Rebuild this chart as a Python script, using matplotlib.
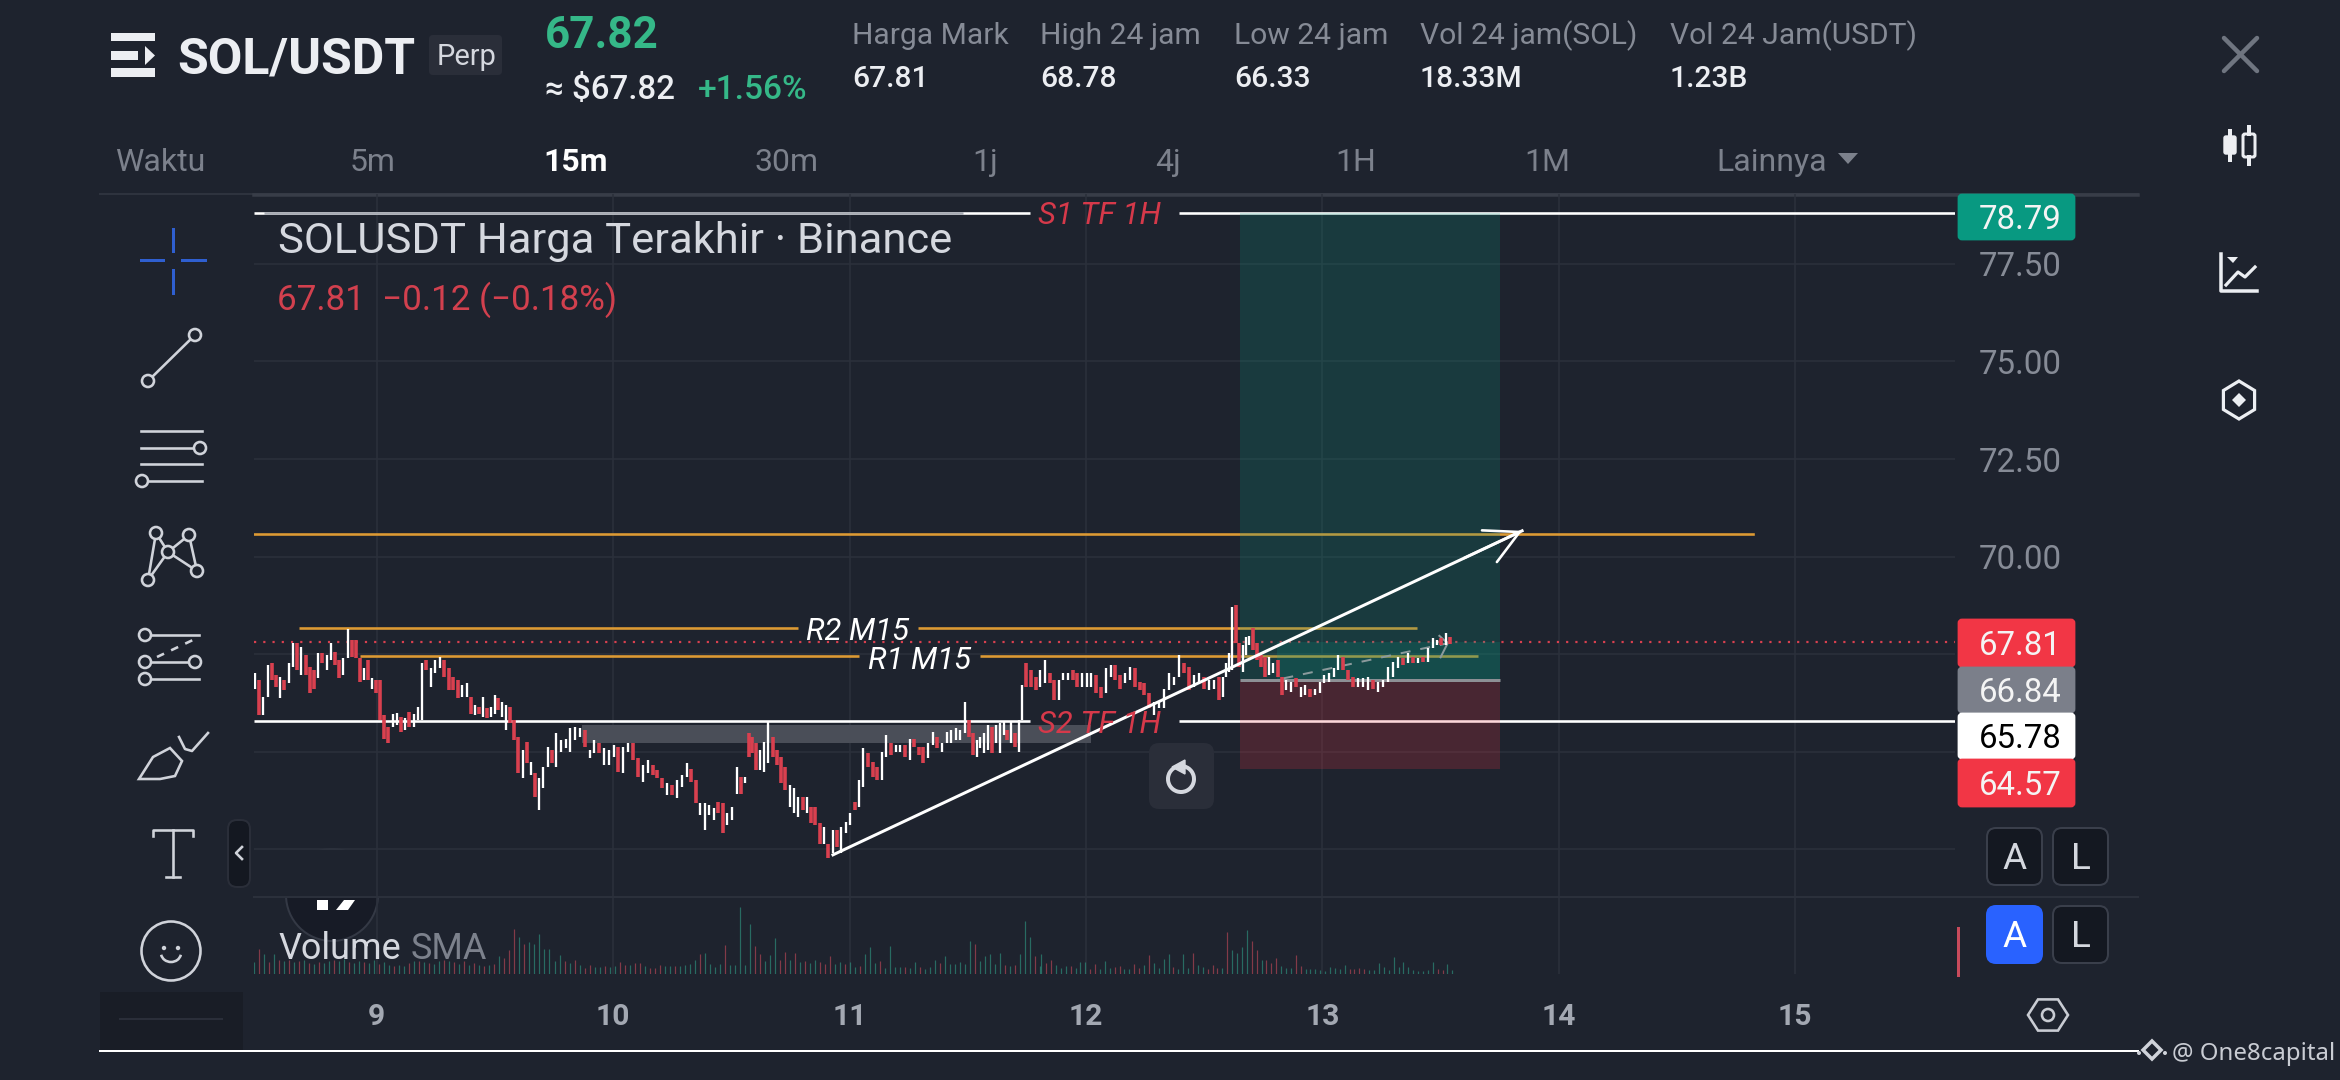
import numpy as np
import matplotlib
matplotlib.use("Agg")
import matplotlib.pyplot as plt
from matplotlib.patches import Rectangle, FancyBboxPatch, Circle, Polygon, Ellipse, Arc

plt.rcParams['font.family'] = ['Roboto', 'DejaVu Sans']

# ---------- price bars (high, low, rising) ----------
highs_a = [67.01,66.84,66.41,67.22,67.27,66.97,66.92,66.84,67.27,67.78,67.78,67.69,67.48,67.18,67.09,67.52,67.52,67.48,67.78,67.56,67.35,67.39,68.14,67.86,67.86,67.39,67.14,67.35,66.88,66.84,66.84,65.94,65.64,65.98,66.00,65.90,65.86,66.03,65.98,66.15,67.27,67.35,67.14,67.35,67.42,67.35,67.14,66.92,66.84,66.71,66.75,66.41,66.20,66.15,66.41,66.11,66.15,66.45,66.37,66.28,66.20,66.15,65.81,65.39,65.04,65.26,64.75,64.45,64.32,64.62,65.13,65.04,65.47,65.30,65.34,65.60,65.64,65.60,65.56,65.04,65.30,65.22,65.09,65.04,65.17,65.13,65.13,65.22,65.22,64.83,64.66,64.79,64.66,64.53,64.32,64.19,64.15,64.28,64.40,64.70,64.57,64.28,63.68,63.68,63.64,63.55,63.72,63.68,63.42,63.59]
lows_a = [66.62,65.94,65.94,66.41,66.84,66.67,66.37,66.58,66.75,67.18,67.09,66.97,66.97,66.50,66.62,66.88,67.27,67.09,67.35,67.22,66.88,66.97,67.39,67.44,67.39,66.80,66.84,66.84,66.62,66.50,65.81,65.34,65.22,65.64,65.69,65.51,65.56,65.64,65.64,65.81,65.81,67.09,66.67,67.01,67.14,66.92,66.58,66.58,66.37,66.41,66.41,65.98,65.94,65.98,65.90,65.86,65.90,65.98,66.07,65.90,65.56,65.73,65.30,64.45,64.32,64.70,64.40,63.85,63.51,64.06,64.62,64.70,64.62,65.00,65.09,65.00,65.30,65.39,65.13,64.83,64.96,64.96,64.66,64.66,64.87,64.49,64.45,65.00,64.79,64.36,64.23,64.45,64.40,64.32,64.06,63.89,63.89,63.81,64.11,64.36,64.23,63.68,63.38,63.00,63.38,63.25,63.42,62.91,63.12,63.25]
rising_a = [1,0,1,1,0,0,1,0,1,1,0,1,0,0,0,1,0,1,1,0,0,1,1,0,0,0,1,0,1,0,0,0,0,1,1,0,1,0,1,1,1,0,1,1,1,0,0,0,0,1,1,0,1,0,1,0,1,1,0,1,1,0,0,0,1,0,1,0,1,1,1,0,1,1,1,1,1,1,0,1,1,0,1,1,1,0,1,1,0,0,1,1,0,0,0,1,0,1,1,1,0,0,1,1,1,1,0,0,1,1]

highs_b = [64.62,64.36,64.36,65.47,65.39,65.22,65.04,65.26,65.77,65.39,65.04,64.87,64.62,64.15,64.06,63.85,63.85,63.85,63.59,63.59,63.17,63.08,62.65,63.00,63.00,63.08,63.21,63.42,63.72,64.28,65.09,64.96,64.75,64.62,65.00,65.43,65.22,65.17,65.17,65.17,65.34,65.34,65.13,65.13,65.22,65.51,65.39,65.22,65.51,65.56,65.60,65.56,66.28,65.81,65.47,65.30,65.39,65.47,65.69,65.64,65.69,65.73,65.77,65.56,65.77,65.47,65.81,66.71,67.27,67.09,66.92,67.09,67.35,67.01,66.84,66.84,67.01,67.01,67.09,67.01,67.01,67.01,67.01,66.97,66.67,67.14,67.22,67.22,66.97,67.01,67.18,67.14,66.80,66.75,66.50,66.28,66.28,66.62,67.01,66.92,67.48,67.27,67.18,66.97,67.01,66.92,66.84,66.84,66.92]
lows_b = [63.93,63.93,64.19,64.87,64.96,64.53,64.53,64.49,64.70,64.87,64.66,64.19,64.02,63.59,63.42,63.34,63.51,63.42,63.17,63.12,62.65,62.65,62.27,62.40,62.57,62.40,62.91,63.12,63.51,63.59,64.11,64.62,64.36,64.28,64.28,64.87,64.92,65.00,65.00,64.87,64.79,65.13,64.92,64.70,64.83,65.17,65.09,65.00,65.22,65.22,65.30,65.30,65.47,65.39,64.92,64.87,65.09,64.96,65.04,64.96,65.22,64.96,65.43,65.30,65.22,65.13,65.00,65.81,66.67,66.67,66.58,66.67,66.75,66.75,66.33,66.33,66.84,66.84,66.84,66.67,66.67,66.67,66.67,66.50,66.37,66.50,66.92,66.84,66.62,66.75,66.84,66.67,66.58,66.45,66.11,65.94,66.11,66.11,66.58,66.71,66.92,67.01,66.58,66.67,66.75,66.62,66.58,66.62,66.33]
rising_b = [1,0,1,0,0,0,1,1,1,0,0,0,0,1,1,1,0,1,0,0,0,1,0,1,0,1,1,1,0,1,1,0,0,0,1,1,0,1,1,0,1,0,0,0,1,1,0,1,1,1,1,1,1,0,0,1,1,1,1,0,1,1,1,0,1,0,1,1,0,0,0,1,1,0,0,1,1,1,0,0,1,1,1,0,0,1,1,0,0,1,1,0,0,0,0,1,1,1,1,1,1,0,0,1,1,0,1,1,0]

highs_c = [66.92,67.27,67.52,68.72,68.76,67.78,67.73,67.95,67.97,68.16,67.78,67.48,67.44,67.44,67.27,67.35,66.92,66.84,66.80,66.88,66.67,66.71,66.62,66.62,66.80,66.97,67.01,67.14,67.48,67.44,67.09,66.92,66.88,66.88,66.92,66.84,66.80,66.84,67.18,67.31,67.44,67.39,67.52,67.44,67.39,67.44,67.65,67.91,67.86,67.91,68.03,67.93]
lows_c = [66.41,66.92,67.05,67.09,67.78,67.18,67.05,67.48,67.73,67.61,67.35,67.18,66.92,66.97,67.01,66.92,66.45,66.58,66.54,66.67,66.41,66.45,66.41,66.45,66.50,66.75,66.80,66.92,67.09,67.09,66.84,66.67,66.67,66.67,66.58,66.62,66.54,66.67,66.80,66.92,67.14,67.22,67.27,67.27,67.27,67.31,67.31,67.65,67.73,67.73,67.73,67.76]
rising_c = [1,1,1,1,0,0,1,1,1,0,0,0,0,1,1,0,0,1,1,0,1,1,0,1,1,1,1,1,1,0,0,0,1,1,1,0,1,1,1,1,1,0,1,0,1,0,1,1,1,0,1,0]

marks_a = ([0, 22, 30, 40, 50, 63, 72, 85, 99, 109], [8.4853, 8.8772, 9.0140, 9.1917, 9.3806, 9.5992, 9.7585, 10.0222, 10.3112, 10.5016])
marks_b = ([0, 8, 22, 30, 52, 66, 67, 83, 94, 100, 108], [10.5225, 10.6565, 10.9103, 11.0583, 11.4884, 11.7168, 11.7281, 12.0425, 12.2681, 12.3950, 12.5628])
marks_c = ([0, 3, 9, 16, 28, 38, 46, 51], [12.5814, 12.6195, 12.7055, 12.8282, 13.0679, 13.2794, 13.4486, 13.5402])

# ---------- volume, signed: + rising, - falling ----------
volume_a = [12,-25,20,-12,20,-14,13,-14,12,-13,14,-11,10,-12,11,13,-14,13,15,-12,11,13,-12,11,14,-10,12,9,-8,9,8,-11,13,-13,12,-11,10,13,-14,13,-12,10,-13,9,-11,9,-8,9,-10,18,-16,-24,-45,37,-30,32,30,40,25,25,13,19,-13,11,-14,9,-6,-9,7,7,-8,7,8,-12,-9,9,-11,-11,8,-6,-6,-9,8,8,-8,8,9,10,14,-20,21,10,7,10,-29,9,9,67,9,50,-28,-20,13,19,36,-14,-22,14,-21,12,-13,11,14,-12,-10,-18,10,12,-10,12,7,-8,20,27,11,-13,6,28,7,7,-7,6,12,-7,5,7,14,-11,18,10,10,12,10,33,-30,13,18,20,10,21,-9,8,-9,20,53,37,-18,8]
volume_b = [20,-11,-14,9,6,8,-8,6,12,12,-5,-10,5,13,6,-7,-8,5,5,-10,-6,9,-19,11,6,15,20,-7,5,20,6,-21,9,7,-5,-9,-6,6,-42,24,21,27,44,-33,-24,14,-14,-11,-16,8,6,6,-19,-8,5,5,5,4,3,7,6,5,9,-5,-5,-6,-5,4,4,11,7,4,17,7,12,7,4,3,3,4,12,-5,-4,10,4]
span_vol_a = (8.481, 11.807)
span_vol_b = (11.811, 13.550)

# ---------- chart values ----------
day_ticks = [9, 10, 11, 12, 13, 14, 15]
price_ticks = [77.5, 75.0, 72.5, 70.0, 67.5, 65.0, 62.5]
price_tick_labels = ['77.50', '75.00', '72.50', '70.00']
s1 = 78.79; s2 = 65.78
r2 = 68.17; r1 = 67.46; target = 70.58
last_price = 67.81; entry = 66.84; stop = 64.57
trend_days = [10.93, 13.845]; trend_prices = [62.36, 70.66]
band_days = (9.87, 12.02); band_prices = (65.22, 65.68)
position_days = (12.652, 13.752)

BG = '#1e232e'; GRID = '#2b303b'; RED = '#d9404f'; LABEL_RED = '#f23645'
ORANGE = '#dd9a33'; TXT = '#868b96'; LIGHT = '#d5d8df'

fig = plt.figure(figsize=(23.4, 10.8), dpi=100, facecolor=BG)
W, H = 2340, 1080
ui = fig.add_axes([0, 0, 1, 1], zorder=1); ui.set_xlim(0, W); ui.set_ylim(H, 0); ui.axis('off')

def pane(x0, y0, x1, y1, z):
    a = fig.add_axes([x0/W, 1-y1/H, (x1-x0)/W, (y1-y0)/H], zorder=z)
    a.patch.set_alpha(0)
    for s in a.spines.values():
        s.set_visible(False)
    a.set_xticks([]); a.set_yticks([])
    return a

ax = pane(254, 194, 1955, 897, 2)
ax.set_xlim(8.481, 15.676); ax.set_ylim(61.28, 79.288)
vx = pane(254, 897, 1955, 974, 2)
vx.set_xlim(8.481, 15.676); vx.set_ylim(0, 77)
top = fig.add_axes([0, 0, 1, 1], zorder=3); top.set_xlim(0, W); top.set_ylim(H, 0); top.axis('off'); top.patch.set_alpha(0)

def lw(px):
    return px*0.72

def T(x, y, s, px, color=LIGHT, ha='left', va='center', axes=top, **k):
    return axes.text(x, y + px*0.1, s, fontsize=px*0.72, color=color, ha=ha, va=va, **k)

# grid
for d in day_ticks:
    ax.axvline(d, color=GRID, lw=lw(1.6), zorder=0.5)
    vx.axvline(d, color=GRID, lw=lw(1.6), zorder=0.5)
for p in price_ticks:
    ax.axhline(p, color=GRID, lw=lw(1.6), zorder=0.5)

# drawings under the position zones
ax.fill_between(band_days, band_prices[0], band_prices[1], color='#4a4e58', lw=0, zorder=1)
ax.plot([8.67, 10.78], [r2, r2], color=ORANGE, lw=lw(2.6), zorder=2, solid_capstyle='butt')
ax.plot([11.29, 13.40], [r2, r2], color=ORANGE, lw=lw(2.6), zorder=2, solid_capstyle='butt')
ax.plot([8.93, 11.04], [r1, r1], color=ORANGE, lw=lw(2.6), zorder=2, solid_capstyle='butt')
ax.plot([11.55, 13.66], [r1, r1], color=ORANGE, lw=lw(2.6), zorder=2, solid_capstyle='butt')
ax.plot([8.481, 14.82], [target, target], color=ORANGE, lw=lw(2.6), zorder=2)
for level in (s1, s2):
    ax.plot([8.481, 11.763], [level, level], color='white', lw=lw(2.6), zorder=2, solid_capstyle='butt')
    ax.plot([12.394, 15.676], [level, level], color='white', lw=lw(2.6), zorder=2, solid_capstyle='butt')
ax.plot([8.525, 11.48], [s1, s1], color='#a7abb3', lw=lw(2.6), zorder=2.1, solid_capstyle='butt')
ax.plot([8.481, 15.676], [last_price]*2, color=RED, lw=lw(2.2), ls=(0, (1, 3.2)), zorder=2)

# long position zones
ax.fill_between(position_days, entry, s1, color='#089981', alpha=0.2, lw=0, zorder=4)
ax.fill_between(position_days, stop, entry, color='#f23645', alpha=0.2, lw=0, zorder=4)
ax.fill_between([12.81, position_days[1]], entry, last_price, color='#089981', alpha=0.2, lw=0, zorder=4)
ax.plot(position_days, [entry, entry], color='#8d9095', lw=lw(3), zorder=4.2, solid_capstyle='butt')

# bars
for hi, lo, up, marks in [(highs_a, lows_a, rising_a, marks_a), (highs_b, lows_b, rising_b, marks_b), (highs_c, lows_c, rising_c, marks_c)]:
    days = np.interp(np.arange(len(hi)), marks[0], marks[1])
    up = np.array(up, bool); hi = np.array(hi); lo = np.array(lo)
    ax.vlines(days[~up], lo[~up], hi[~up], color=RED, lw=lw(3.6), zorder=5)
    ax.vlines(days[up], lo[up], hi[up], color='white', lw=lw(2.3), zorder=5.1)

# position dashes & arrow
ax.plot([12.835, 13.53], [66.88, 67.78], color='#8b9a9c', lw=lw(2), ls=(0, (5, 5)), zorder=4.5)
ax.plot([13.495, 13.53, 13.50], [67.97, 67.78, 67.42], color='#8b9a9c', lw=lw(2), zorder=4.5)

# trend line with open arrow
ax.plot(trend_days, trend_prices, color='white', lw=lw(3), zorder=6)
ax.annotate('', xy=(trend_days[1], trend_prices[1]),
            xytext=(13.6, np.interp(13.6, trend_days, trend_prices)),
            arrowprops=dict(arrowstyle='->,head_length=0.8,head_width=0.42', mutation_scale=30, color='white', lw=lw(2.6), shrinkA=0, shrinkB=0), zorder=6)

# volume bars
for vals, span in [(volume_a, span_vol_a), (volume_b, span_vol_b)]:
    vals = np.array(vals, float)
    days = np.linspace(span[0], span[1], len(vals))
    vx.vlines(days[vals > 0], 0, vals[vals > 0], color='#2f9c86', lw=lw(1.2), alpha=0.6)
    vx.vlines(days[vals < 0], 0, -vals[vals < 0], color='#c84a5b', lw=lw(1.2), alpha=0.6)

# chart labels
T(858, 628, 'R2 M15', 31, 'white', ha='center', style='italic')
T(919, 657, 'R1 M15', 31, 'white', ha='center', style='italic')
T(1100, 721, 'S2 TF 1H', 31, '#d6394a', ha='center', style='italic')
T(1100, 212, 'S1 TF 1H', 31, '#d6394a', ha='center', style='italic')
T(278, 237, 'SOLUSDT Harga Terakhir · Binance', 43.5, LIGHT)
T(277, 296, '67.81  −0.12 (−0.18%)', 35, '#d2404e')

# axis labels
for p, s, y in zip(price_ticks, price_tick_labels, [264, 362, 459.5, 557]):
    T(1979, y, s, 33, TXT)
for d in day_ticks:
    T(376.7 + (d-9)*236.4, 1014, str(d), 30, '#a3a8b2', ha='center', fontweight='bold')

def tag(y0, y1, txt, fc, tc='#f4f4f4'):
    top.add_patch(FancyBboxPatch((1956+3, y0+1), 121-6, y1-y0-2, boxstyle='round,pad=0,rounding_size=3', fc=fc, ec=fc, lw=2))
    T(1979, (y0+y1)/2, txt, 33, tc)
tag(194, 240, '78.79', '#089981')
tag(619, 667, '67.81', LABEL_RED)
tag(667, 713, '66.84', '#7b7f8a')
tag(713, 759, '65.78', 'white', 'black')
tag(759, 807, '64.57', LABEL_RED)

# refresh button
top.add_patch(FancyBboxPatch((1156, 750), 51, 52, boxstyle='round,pad=7,rounding_size=10', fc='#2a2e39', ec='none'))
top.add_patch(Arc((1181, 779), 26, 26, theta1=-75, theta2=250, color=LIGHT, lw=lw(4)))
top.add_patch(Polygon([[1185, 760], [1172, 767], [1185, 774]], fc=LIGHT, ec=LIGHT))

# header / tab line
ui.plot([100, 2138], [194, 194], color='#2e333e', lw=lw(2))
ui.plot([254, 2138], [195, 195], color='#383d48', lw=lw(3.5))
ui.plot([254, 2138], [897, 897], color=GRID, lw=lw(2))
ui.plot([100, 2138], [1051, 1051], color='white', lw=lw(2))
ui.add_patch(Rectangle((100, 992), 143, 59, fc='#191d26', ec='none'))
ui.plot([120, 222], [1019, 1019], color='#2a2e39', lw=lw(2))

# logo
for y0, y1, x1 in [(33, 41, 155), (51, 60, 138), (68, 77, 155)]:
    top.add_patch(Rectangle((111, y0), x1-111, y1-y0, fc='#eceef2', ec='none'))
top.add_patch(Polygon([[145, 46], [155, 55.5], [145, 65]], fc='#eceef2', ec='none'))
T(177, 55, 'SOL/USDT', 50, '#eceef2', fontweight='bold')
top.add_patch(FancyBboxPatch((433, 39), 65, 32, boxstyle='round,pad=4,rounding_size=4', fc='#2a2e39', ec='none'))
T(437, 54, 'Perp', 29, LIGHT)
T(545, 32, '67.82', 44, '#35b888', fontweight='bold')
T(545, 87, '≈ $67.82', 33, '#eceef2', fontweight='medium')
T(698, 87, '+1.56%', 33.5, '#35b888', fontweight='medium')
heads = ['Harga Mark', 'High 24 jam', 'Low 24 jam', 'Vol 24 jam(SOL)', 'Vol 24 Jam(USDT)']
vals = ['67.81', '68.78', '66.33', '18.33M', '1.23B']
for x, h, v in zip([852, 1040, 1234, 1420, 1670], heads, vals):
    T(x, 33, h, 30, TXT)
    T(x, 76, v, 30, '#eceef2', fontweight='medium')
tabs = [('Waktu', 160), ('5m', 373), ('15m', 576), ('30m', 786), ('1j', 985), ('4j', 1168), ('1H', 1356), ('1M', 1547), ('Lainnya', 1772)]
for s, x in tabs:
    T(x, 159, s, 32, 'white' if s == '15m' else '#7c818c', ha='center', fontweight='bold' if s == '15m' else 'normal')
top.add_patch(Polygon([[1838, 153], [1858, 153], [1848, 164]], fc='#7c818c', ec='none'))

# right icons
top.plot([2224, 2257], [38, 71], color='#6f7580', lw=lw(4.5), solid_capstyle='round')
top.plot([2224, 2257], [71, 38], color='#6f7580', lw=lw(4.5), solid_capstyle='round')
I = '#eceef2'
top.plot([2230, 2230], [131, 160], color=I, lw=lw(4))
top.add_patch(FancyBboxPatch((2224, 136), 12, 18, boxstyle='round,pad=0,rounding_size=2', fc=I, ec=I))
top.plot([2248.5, 2248.5], [127, 134], color=I, lw=lw(4)); top.plot([2248.5, 2248.5], [157, 164], color=I, lw=lw(4))
top.add_patch(FancyBboxPatch((2243, 134), 12, 23, boxstyle='round,pad=0,rounding_size=2', fc='none', ec=I, lw=lw(3)))
top.plot([2221, 2221, 2257], [254, 291, 291], color=I, lw=lw(3.5))
top.plot([2226, 2238, 2245, 2255], [285, 272, 277, 267], color=I, lw=lw(3.2))
top.add_patch(Polygon([[2227, 257], [2238, 257], [2233, 263]], fc=I, ec='none'))
hexa = [[2239 + 18*np.sin(a), 400 - 19*np.cos(a)] for a in np.linspace(0, 2*np.pi, 7)[:-1]]
top.add_patch(Polygon(hexa, closed=True, fc='none', ec=I, lw=lw(3.2)))
top.add_patch(Polygon([[2239, 393], [2246, 400], [2239, 407], [2232, 400]], fc=I, ec='none'))
hex2 = [[2048 + 20*np.cos(a), 1015 + 18*np.sin(a)] for a in np.linspace(0, 2*np.pi, 7)[:-1]]
top.add_patch(Polygon(hex2, closed=True, fc='none', ec='#c9ccd3', lw=lw(2.6)))
top.add_patch(Circle((2048, 1015), 6, fc='none', ec='#c9ccd3', lw=lw(2.6)))

# A / L buttons
def btn(x0, y0, s, fc, ec):
    top.add_patch(FancyBboxPatch((x0+7, y0+7), 41, 43, boxstyle='round,pad=7,rounding_size=9', fc=fc, ec=ec, lw=lw(2)))
    T(x0+27.5, y0+27, s, 37, LIGHT if fc != '#2962ff' else 'white', ha='center')
btn(1987, 828, 'A', '#141821', '#3a3f4b')
btn(2053, 828, 'L', '#141821', '#3a3f4b')
btn(1987, 906, 'A', '#2962ff', '#2962ff')
btn(2053, 906, 'L', '#141821', '#3a3f4b')
top.plot([1957.5, 1957.5], [928, 975], color='#c84a5b', lw=lw(3))

# drawing toolbar
C = '#d0d3da'; L2 = lw(2.6)
B = '#2f5fd0'
for xs, ys in [([141, 163], [260, 260]), ([182, 205], [260, 260]), ([173, 173], [229, 251]), ([173, 173], [270, 293])]:
    top.plot(xs, ys, color=B, lw=lw(3))
def dot(x, y, r=6):
    top.add_patch(Circle((x, y), r, fc=BG, ec=C, lw=L2, zorder=4))
top.plot([148, 195], [381, 335], color=C, lw=L2); dot(148, 381); dot(195, 335)
for y in [431, 448, 464, 481]:
    top.plot([141, 202], [y, y], color=C, lw=L2)
dot(200, 448); dot(142, 481)
pts = dict(a=(148, 580), b=(156, 533), c=(168, 552), d=(189, 535), e=(197, 571))
for p, q in ['ab', 'bc', 'ac', 'cd', 'de', 'ce']:
    top.plot([pts[p][0], pts[q][0]], [pts[p][1], pts[q][1]], color=C, lw=L2)
for p in pts.values():
    dot(*p)
for y in [635, 662, 679]:
    top.plot([145, 199], [y, y], color=C, lw=L2)
dot(145, 635); dot(145, 662); dot(195, 662); dot(145, 679)
top.plot([157, 195], [657, 639], color=C, lw=L2, ls=(0, (3, 3)))
top.add_patch(Polygon([[139, 779], [153, 757], [170, 748], [182, 761], [175, 776], [160, 779]], fc='none', ec=C, lw=L2))
top.plot([179, 185, 192, 208], [737, 749, 751, 733], color=C, lw=L2)
top.plot([153, 153, 193, 193], [836, 830, 830, 836], color=C, lw=L2)
top.plot([173, 173], [830, 877], color=C, lw=L2)
top.plot([166, 180], [877, 877], color=C, lw=L2)
top.add_patch(Ellipse((171, 951), 59, 59, fc='none', ec=C, lw=L2))
top.add_patch(Circle((164, 948), 2.2, fc=C, ec='none')); top.add_patch(Circle((178, 948), 2.2, fc=C, ec='none'))
top.add_patch(Arc((171, 953), 20, 18, theta1=10, theta2=170, color=C, lw=L2))
top.add_patch(FancyBboxPatch((232, 824), 14, 59, boxstyle='round,pad=4,rounding_size=9', fc='#141821', ec='#2a2e39', lw=lw(2)))
top.plot([242, 236, 242], [847, 853, 859], color=C, lw=L2)

# logo peeking from behind the volume pane
ui.add_patch(Circle((332, 895), 46, fc='#171b26', ec='#343945', lw=lw(2)))
ui.add_patch(Rectangle((280, 850), 105, 48, fc=BG, ec='none'))
ui.plot([254, 2138], [897, 897], color=GRID, lw=lw(2))
ui.add_patch(Rectangle((317, 900), 11, 10, fc='white', ec='none'))
ui.add_patch(Polygon([[344, 900], [355, 900], [348, 910], [336, 910]], fc='white', ec='none'))

T(278, 945, 'Volume', 36, '#d5d8df')
T(411, 945, 'SMA', 36, '#7c818c')

# watermark
top.add_patch(Polygon([[2152, 1041], [2161, 1050], [2152, 1059], [2143, 1050]], fc='none', ec=C, lw=lw(3.5)))
top.add_patch(Circle((2139, 1053), 2, fc=C, ec='none')); top.add_patch(Circle((2165, 1053), 2, fc=C, ec='none'))
T(2172, 1052, '@ One8capital', 24, '#c9ccd3', family='Noto Sans')

fig.savefig('out.png', dpi=100, facecolor=BG)
